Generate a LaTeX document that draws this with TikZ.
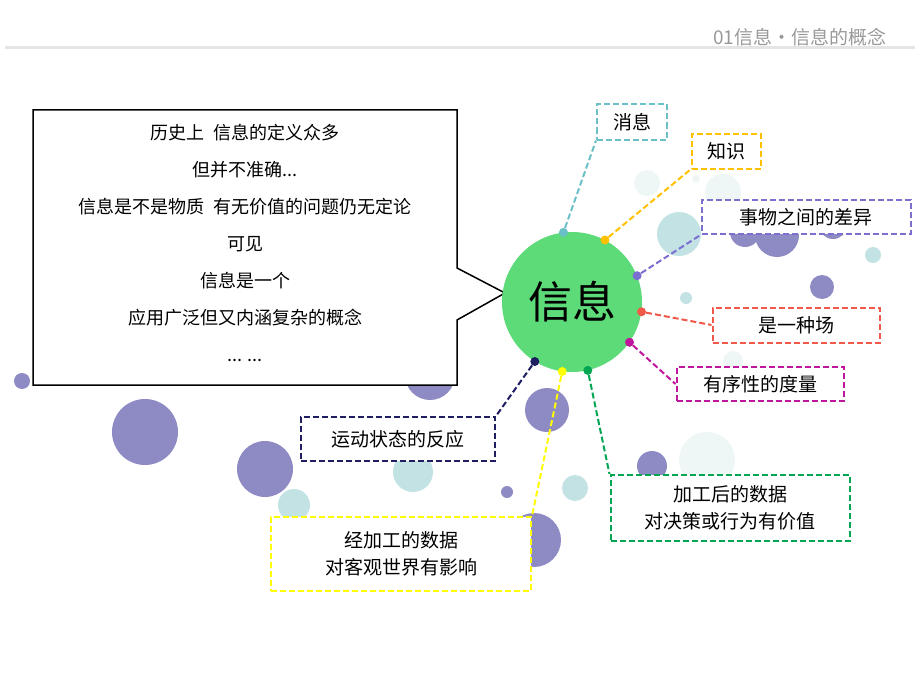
\documentclass[tikz,border=0pt]{standalone}
\usepackage{fontspec}
\setmainfont{Noto Sans CJK SC}
\usetikzlibrary{calc}
\definecolor{bubp}{HTML}{8E8BC4}
\definecolor{bubb}{HTML}{C2E2E4}
\definecolor{bubl}{HTML}{EEF6F6}
\definecolor{cxiao}{HTML}{6BBFC6}
\definecolor{czhi}{HTML}{FFC000}
\definecolor{cshi}{HTML}{7B6FD0}
\definecolor{cchang}{HTML}{F0584A}
\definecolor{cxu}{HTML}{C0169E}
\definecolor{cyun}{HTML}{1E1E60}
\definecolor{cjia}{HTML}{00A651}
\definecolor{cjing}{HTML}{FFFF00}
\definecolor{cgreen}{HTML}{5CDB78}
\tikzset{
    tag/.style={draw=#1, dash pattern=on 6pt off 3pt, line width=2pt, inner sep=0pt, fill=white,
        align=center, font=\fontsize{19}{27}\selectfont},
    link/.style={draw=#1, dash pattern=on 6pt off 3pt, line width=2pt},
    tagdot/.style={shape=circle, fill=#1, inner sep=0pt, minimum size=9pt},
}
\begin{document}
\begin{tikzpicture}[x=1pt, y=-1pt]
    \useasboundingbox (0,0) rectangle (920,690);
    % header
    \draw[gray!20, line width=3pt] (5,48) -- (915,48);
    \node[gray!80, font=\fontsize{19}{19}\selectfont, anchor=east] (head) at (890,37) {01信息•信息的概念};
    % bubbles
    \foreach \x/\y/\r/\c in {22/381/8/bubp, 145/432/33/bubp, 265/469/28/bubp, 430/375/25/bubp,
        547/410/22/bubp, 534/540/27/bubp, 507/492/6/bubp, 652/466/15/bubp, 822/287/12/bubp,
        745/232/15/bubp, 777/235/22/bubp, 833/225/14/bubp, 679/234/22/bubb, 294/505/16/bubb,
        413/472/20/bubb, 575/488/13/bubb, 873/255/8/bubb, 686/298/6/bubb, 707/460/28/bubl,
        733/361/10/bubl, 647/183/13/bubl, 723/192/18/bubl, 696/179/4/bubl}
        \fill[\c] (\x,\y) circle (\r);
    % callout
    \draw[line width=1.5pt, fill=white] (33,110) -- (457,110) -- (457,268) -- (505,293) -- (457,320)
        -- (457,385) -- (33,385) -- cycle;
    \node[align=center, font=\fontsize{18}{37}\selectfont] (note) at (245,243)
        {历史上\enspace 信息的定义众多\\但并不准确...\\信息是不是物质\enspace 有无价值的问题仍无定论\\可见\\信息是一个\\应用广泛但又内涵复杂的概念\\... ...};
    % centre
    \node[circle, fill=cgreen, minimum size=140pt, font=\fontsize{44}{44}\selectfont] (info) at (572,302) {信息};
    % tags
    \node[tag=cxiao, minimum width=70pt, minimum height=35pt] (xiao) at (632,122) {消息};
    \node[tag=czhi, minimum width=69pt, minimum height=35pt] (zhi) at (726,151) {知识};
    \node[tag=cshi, minimum width=209pt, minimum height=34pt] (shi) at (806,217) {事物之间的差异};
    \node[tag=cchang, minimum width=167pt, minimum height=35pt] (chang) at (796,325) {是一种场};
    \node[tag=cxu, minimum width=167pt, minimum height=34pt] (xu) at (760,384) {有序性的度量};
    \node[tag=cyun, minimum width=194pt, minimum height=44pt] (yun) at (398,439) {运动状态的反应};
    \node[tag=cjia, minimum width=239pt, minimum height=66pt] (jia) at (730,508) {加工后的数据\\对决策或行为有价值};
    \node[tag=cjing, minimum width=260pt, minimum height=74pt] (jing) at (401,554) {经加工的数据\\对客观世界有影响};
    % links
    \foreach \n/\c/\a/\p in {xiao/cxiao/97/south west, zhi/czhi/62/south west, shi/cshi/22/south west,
        chang/cchang/-8/west, xu/cxu/-35/west, yun/cyun/-122/north east,
        jia/cjia/-77/north west, jing/cjing/-98/north east} {
        \node[tagdot=\c] (d\n) at (info.\a) {};
        \draw[link=\c] (d\n) -- (\n.\p);
    };
\end{tikzpicture}
\end{document}
